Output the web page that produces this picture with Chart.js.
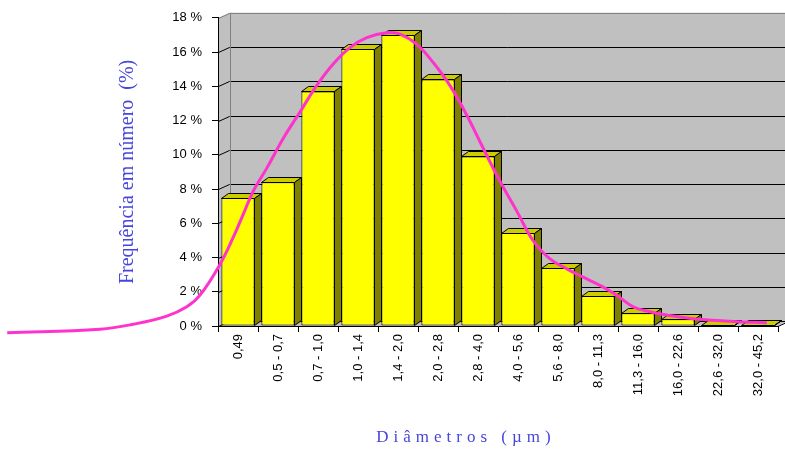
<!DOCTYPE html>
<html>
<head>
<meta charset="utf-8">
<script src="https://cdn.jsdelivr.net/npm/chart.js@4"></script>
<style>
  body { margin: 0; background: #fff; }
  #wrap { width: 785px; height: 449px; }
</style>
</head>
<body>
<div id="wrap"><canvas id="sizeChart" width="785" height="449"></canvas></div>
<script>
// classes de diâmetro (µm) e frequência em número (%)
const categories = ['0,49', '0,5 - 0,7', '0,7 - 1,0', '1,0 - 1,4', '1,4 - 2,0', '2,0 - 2,8', '2,8 - 4,0',
  '4,0 - 5,6', '5,6 - 8,0', '8,0 - 11,3', '11,3 - 16,0', '16,0 - 22,6', '22,6 - 32,0', '32,0 - 45,2'];
const frequency = [7.5, 8.4, 13.7, 16.2, 17.0, 14.4, 9.9, 5.45, 3.4, 1.75, 0.75, 0.4, 0.04, 0.04];

// curva de ajuste (x em posição de classe, y em %)
const curveX = [-5.77, -3.45, -2.62, -1.78, -1.28, -0.95, -0.45, -0.12, 0.13, 0.38, 0.72, 1.13, 1.55, 1.97,
  2.38, 2.8, 3.22, 3.72, 4.05, 4.47, 4.88, 5.3, 5.72, 6.13, 6.55, 6.97, 7.38, 7.8, 8.22, 8.63, 9.05, 9.47,
  9.88, 10.3, 10.72, 11.55, 12.38, 13.22];
const curveY = [-0.39, -0.19, 0.1, 0.58, 1.12, 1.8, 3.6, 5.17, 6.52, 7.87, 9.22, 10.95, 12.5, 14.05,
  15.3, 16.26, 16.84, 17.13, 17.05, 16.45, 15.39, 14.04, 12.31, 10.38, 8.45, 6.71, 4.98, 3.92, 3.34, 2.85, 2.37, 1.79,
  1.12, 0.83, 0.64, 0.39, 0.27, 0.19];

const yTitle = 'Frequência em número  (%)';
const xTitle = 'Diâmetros (µm)';

// 3D offsets
const wallDX = 11, wallDY = 5;
const barDX = 7, barDY = 5;

// back wall, side wall, floor and gridlines
const wallPlugin = {
  id: 'wall3d',
  beforeDraw(chart) {
    const { ctx, chartArea: a } = chart;
    const y = chart.scales.y;
    const L = a.left + 0.5, R = a.right, B = a.bottom, T = a.top;
    ctx.save();
    ctx.fillStyle = '#C0C0C0';
    ctx.beginPath();
    ctx.moveTo(L, T);
    ctx.lineTo(L + wallDX, T - wallDY);
    ctx.lineTo(R + wallDX, T - wallDY);
    ctx.lineTo(R + wallDX, B - wallDY);
    ctx.lineTo(R, B);
    ctx.lineTo(L, B);
    ctx.closePath();
    ctx.fill();

    ctx.lineWidth = 1;
    y.ticks.forEach(t => {
      const py = Math.round(y.getPixelForValue(t.value)) + 0.5;
      ctx.strokeStyle = t.value === y.max ? '#808080' : '#000';
      ctx.beginPath();
      ctx.moveTo(L, py);
      ctx.lineTo(L + wallDX, py - wallDY);
      ctx.lineTo(R + wallDX, py - wallDY);
      ctx.stroke();
    });
    // back wall left edge
    ctx.strokeStyle = '#808080';
    ctx.beginPath();
    ctx.moveTo(Math.round(L + wallDX) + 0.5, T - wallDY);
    ctx.lineTo(Math.round(L + wallDX) + 0.5, B - wallDY);
    ctx.stroke();
    // floor front-right edge
    ctx.strokeStyle = '#000';
    ctx.beginPath();
    ctx.moveTo(R, B + 0.5);
    ctx.lineTo(R + wallDX, B - wallDY + 0.5);
    ctx.stroke();
    ctx.restore();
  }
};

// top and side faces of the bars
const barFacesPlugin = {
  id: 'barFaces',
  afterDatasetDraw(chart, args) {
    if (args.index !== 0) return;
    const ctx = chart.ctx;
    ctx.save();
    ctx.lineWidth = 1;
    ctx.strokeStyle = '#000';
    args.meta.data.forEach(el => {
      const p = el.getProps(['x', 'y', 'base', 'width'], true);
      const l = Math.round(p.x - p.width / 2) + 0.5;
      const r = Math.round(p.x + p.width / 2) - 0.5;
      const t = Math.round(p.y) + 0.5;
      const b = Math.round(p.base) - 0.5;
      ctx.fillStyle = '#CCCC00';
      ctx.beginPath();
      ctx.moveTo(l, t);
      ctx.lineTo(l + barDX, t - barDY);
      ctx.lineTo(r + barDX, t - barDY);
      ctx.lineTo(r, t);
      ctx.closePath();
      ctx.fill();
      ctx.stroke();
      ctx.fillStyle = '#808000';
      ctx.beginPath();
      ctx.moveTo(r, t);
      ctx.lineTo(r + barDX, t - barDY);
      ctx.lineTo(r + barDX, b - barDY);
      ctx.lineTo(r, b);
      ctx.closePath();
      ctx.fill();
      ctx.stroke();
    });
    ctx.restore();
  }
};

// spaced x axis title
const xTitlePlugin = {
  id: 'xTitle',
  afterDraw(chart) {
    const { ctx, chartArea: a } = chart;
    ctx.save();
    ctx.font = '17px "Liberation Serif", "Times New Roman", serif';
    ctx.letterSpacing = '5px';
    ctx.fillStyle = '#4646DC';
    ctx.textAlign = 'center';
    ctx.textBaseline = 'alphabetic';
    ctx.fillText(xTitle, a.left + 248, chart.height - 7);
    ctx.restore();
  }
};

function initSizeChart() {
  const ctx = document.getElementById('sizeChart').getContext('2d');
  const tickFont = { family: '"Liberation Sans", Arial, sans-serif', size: 13 };

  new Chart(ctx, {
    type: 'bar',
    data: {
      labels: categories,
      datasets: [
        {
          label: 'Frequência',
          data: frequency,
          backgroundColor: '#FFFF00',
          borderColor: '#000',
          borderWidth: 1,
          borderSkipped: false,
          grouped: false,
          barPercentage: 0.83,
          categoryPercentage: 1,
          order: 1
        },
        {
          type: 'line',
          label: 'Curva',
          xAxisID: 'xc',
          data: curveX.map((x, i) => ({ x: x, y: curveY[i] })),
          borderColor: '#FF33CC',
          borderWidth: 3,
          pointRadius: 0,
          tension: 0.4,
          fill: false,
          clip: false,
          order: 0
        }
      ]
    },
    options: {
      responsive: false,
      animation: false,
      layout: { padding: { top: 15, right: 7, left: 0, bottom: 0 } },
      elements: { line: { capBezierPoints: false } },
      plugins: { legend: { display: false }, tooltip: { enabled: false } },
      scales: {
        x: {
          type: 'category',
          afterFit: s => { s.height = 123; },
          grid: { drawOnChartArea: false, tickLength: 6, color: '#000' },
          border: { color: '#000' },
          ticks: { color: '#000', font: tickFont, minRotation: 90, maxRotation: 90, autoSkip: false, padding: 2 }
        },
        xc: {
          type: 'linear',
          display: false,
          offset: false,
          bounds: 'data',
          // range set here so that points left of the first class are still drawn
          afterDataLimits: s => { s.min = -0.5; s.max = categories.length - 0.5; }
        },
        y: {
          min: 0,
          max: 18,
          afterFit: s => { s.width = 218; },
          grid: { drawOnChartArea: false, tickLength: 6, color: '#000' },
          border: { color: '#000' },
          ticks: { stepSize: 2, color: '#000', font: tickFont, padding: 10, callback: v => v + ' %' },
          title: {
            display: true,
            text: yTitle,
            color: '#4646DC',
            font: { family: '"Liberation Serif", "Times New Roman", serif', size: 20 },
            padding: { top: 116, bottom: 0 }
          }
        }
      }
    },
    plugins: [wallPlugin, barFacesPlugin, xTitlePlugin]
  });
}

document.addEventListener('DOMContentLoaded', initSizeChart);
</script>
</body>
</html>
